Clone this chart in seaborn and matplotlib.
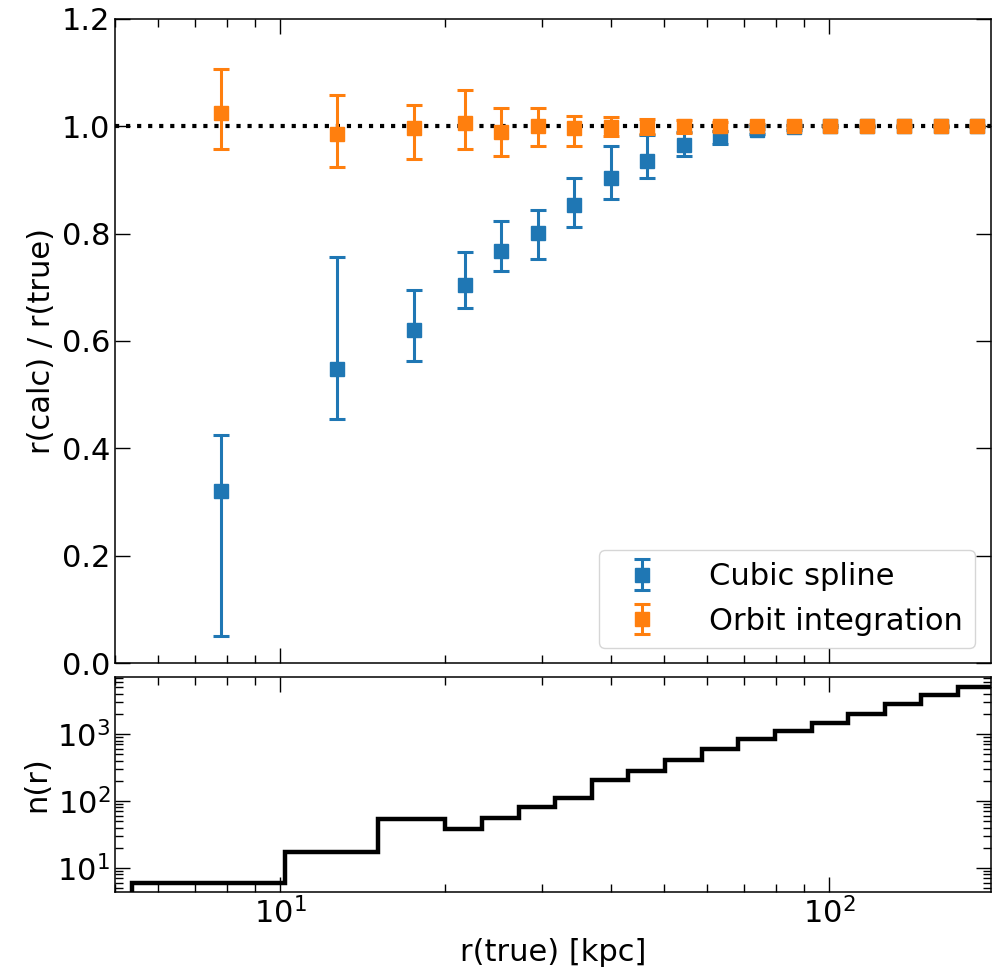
import numpy as np
import matplotlib
matplotlib.use("Agg")
import matplotlib.pyplot as plt
import seaborn as sns
from matplotlib.ticker import MultipleLocator, NullFormatter

# --- Data ---
# radial bin centres [kpc]
r_true = [7.8, 12.7, 17.55, 21.7, 25.25, 29.5, 34.3, 40.1, 46.6,
          54.4, 63.4, 74.0, 86.2, 100.5, 117.2, 136.8, 159.6, 186.0]

# cubic spline: ratio and lower / upper end of the error bar
spline_ratio = [0.320, 0.548, 0.620, 0.704, 0.768, 0.802, 0.853, 0.903, 0.936,
                0.965, 0.980, 0.993, 0.998, 1.000, 1.000, 1.000, 1.000, 1.000]
spline_lo = [0.051, 0.455, 0.562, 0.661, 0.730, 0.753, 0.813, 0.865, 0.904,
             0.944, 0.968, 0.985, 0.994, 0.998, 0.999, 0.999, 0.999, 0.999]
spline_hi = [0.424, 0.756, 0.695, 0.765, 0.824, 0.844, 0.903, 0.963, 0.983,
             0.990, 0.992, 1.000, 1.002, 1.002, 1.001, 1.001, 1.001, 1.001]

# orbit integration
orbit_ratio = [1.025, 0.985, 0.997, 1.007, 0.990, 1.000, 0.996, 0.999, 0.999,
               1.000, 1.000, 1.000, 1.000, 1.000, 1.000, 1.000, 1.000, 1.000]
orbit_lo = [0.957, 0.924, 0.940, 0.958, 0.944, 0.963, 0.963, 0.982, 0.985,
            0.988, 0.992, 0.995, 0.997, 0.998, 0.998, 0.998, 0.998, 0.998]
orbit_hi = [1.107, 1.059, 1.040, 1.068, 1.034, 1.034, 1.019, 1.018, 1.014,
            1.012, 1.008, 1.005, 1.003, 1.002, 1.002, 1.002, 1.002, 1.002]

# number of particles per radial bin
bin_edges = [5.37, 10.2, 15.1, 20.0, 23.3, 27.2, 31.7, 37.0, 43.1, 50.3,
             58.6, 68.3, 79.7, 92.9, 108.3, 126.3, 147.3, 171.7, 200.2]
bin_counts = [6, 17, 53, 38, 56, 82, 111, 205, 280, 408,
              597, 834, 1110, 1446, 1970, 2810, 3830, 5000]


def yerr(val, lo, hi):
    val, lo, hi = np.asarray(val), np.asarray(lo), np.asarray(hi)
    return np.vstack([val - lo, hi - val])


sns.set_theme(style="ticks", rc={
    "axes.edgecolor": "black",
    "axes.linewidth": 1.1,
    "text.color": "black",
    "axes.labelcolor": "black",
    "xtick.color": "black",
    "ytick.color": "black",
})
plt.rcParams["font.family"] = ["DejaVu Sans"]

FS = 22
colors = sns.color_palette("tab10")

fig = plt.figure(figsize=(9.92, 9.74), dpi=100)
ax1 = fig.add_axes([0.1159, 0.3193, 0.8828, 0.6612])
ax2 = fig.add_axes([0.1159, 0.0839, 0.8828, 0.2213], sharex=ax1)

# --- top panel ---
ax1.axhline(1.0, color="black", linestyle=":", linewidth=3, zorder=1)
ax1.errorbar(r_true, spline_ratio, yerr=yerr(spline_ratio, spline_lo, spline_hi),
             fmt="s", color=colors[0], ms=10, capsize=6, elinewidth=2.2,
             capthick=2.2, label="Cubic spline")
ax1.errorbar(r_true, orbit_ratio, yerr=yerr(orbit_ratio, orbit_lo, orbit_hi),
             fmt="s", color=colors[1], ms=10, capsize=6, elinewidth=2.2,
             capthick=2.2, label="Orbit integration")
ax1.set_xscale("log")
ax1.set_xlim(5.0, 197)
ax1.set_ylim(0.0, 1.2)
ax1.yaxis.set_major_locator(MultipleLocator(0.2))
ax1.set_ylabel("r(calc) / r(true)", fontsize=FS)
ax1.tick_params(labelbottom=False)
ax1.legend(loc="lower right", fontsize=FS, frameon=True, handletextpad=1.2,
           framealpha=0.8, edgecolor="0.8", fancybox=True)

# --- bottom panel ---
ax2.hist(r_true, bins=bin_edges, weights=bin_counts, histtype="step",
         color="black", linewidth=3.2, log=True)
ax2.set_yscale("log")
ax2.set_ylim(4.3, 7200)
ax2.set_xlim(5.0, 197)
ax2.set_ylabel("n(r)", fontsize=FS)
ax2.set_xlabel("r(true) [kpc]", fontsize=FS, labelpad=6)
ax2.xaxis.set_minor_formatter(NullFormatter())

for ax in (ax1, ax2):
    ax.tick_params(which="both", direction="in", top=True, right=True,
                   labelsize=FS, width=1.0)
    ax.tick_params(which="major", length=11)
    ax.tick_params(which="minor", length=5.5)

fig.savefig("out.png", dpi=100)
